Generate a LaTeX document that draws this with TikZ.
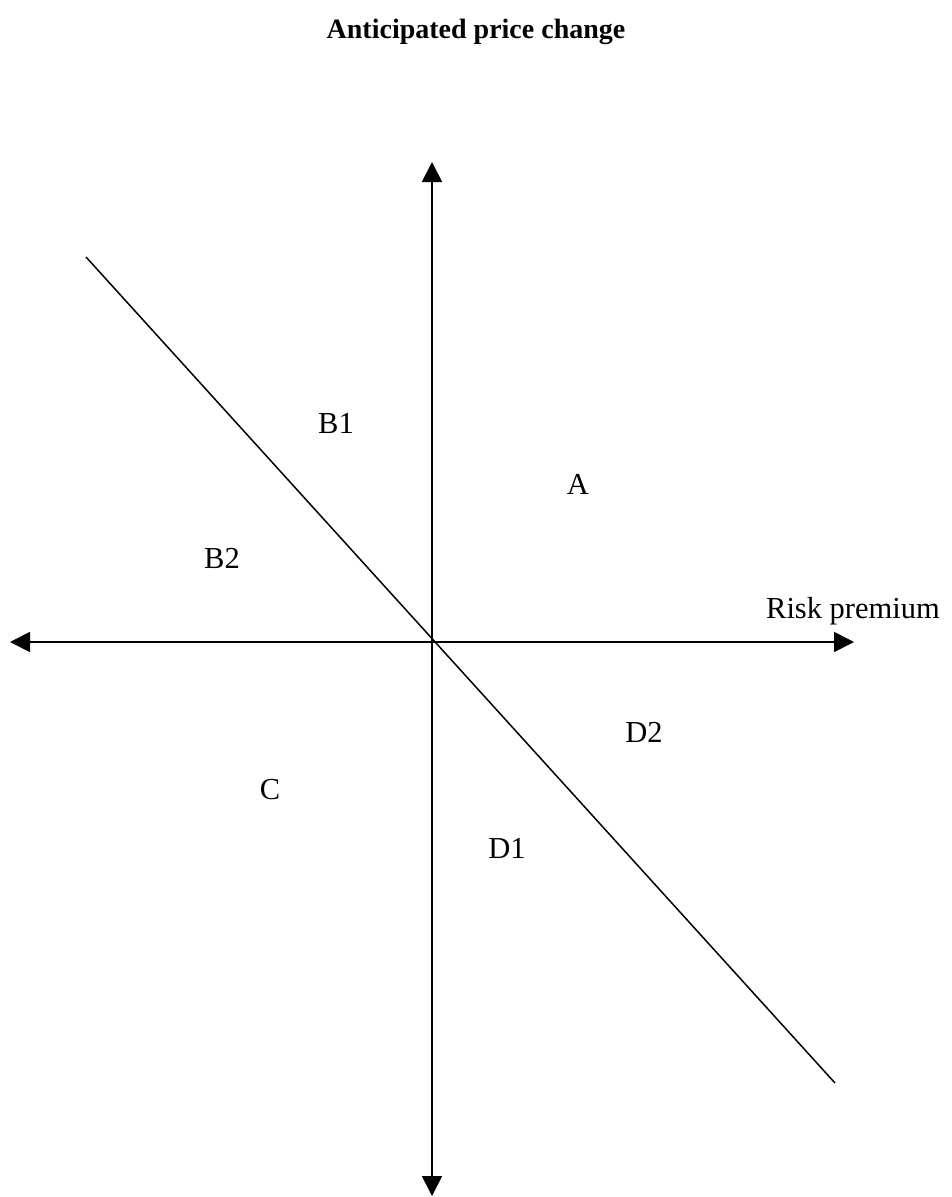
\documentclass[tikz,border=0pt]{standalone}
\usepackage{fontspec}
\setmainfont{Liberation Serif}
\usetikzlibrary{arrows.meta}
\tikzset{
  axisline/.style={line width=1.7pt,{Triangle[length=20pt,width=20pt]}-{Triangle[length=20pt,width=20pt]}},
  diagline/.style={line width=1.5pt},
  lbl/.style={font=\fontsize{30.5}{36}\selectfont, inner sep=0pt, anchor=base},
  ttl/.style={font=\bfseries\fontsize{28}{34}\selectfont, inner sep=0pt, anchor=base}
}
\begin{document}
\begin{tikzpicture}[x=1pt,y=-1pt]
\useasboundingbox (0,0) rectangle (952,1197);
\coordinate (top) at (432,162);
\coordinate (bot) at (432,1196);
\coordinate (left) at (10,642);
\coordinate (right) at (854,642);
\coordinate (d1) at (86,257);
\coordinate (d2) at (835,1083);
\draw[axisline] (bot) -- (top);
\draw[axisline] (left) -- (right);
\draw[diagline] (d1) -- (d2);
\node[ttl] (title) at (476,38) {Anticipated price change};
\node[lbl] (B1) at (336,433) {B1};
\node[lbl] (A) at (578,494) {A};
\node[lbl] (B2) at (222,568) {B2};
\node[lbl] (rp) at (853,618) {Risk premium};
\node[lbl] (D2) at (644,742) {D2};
\node[lbl] (C) at (270,799) {C};
\node[lbl] (D1) at (507,858) {D1};
\end{tikzpicture}
\end{document}
